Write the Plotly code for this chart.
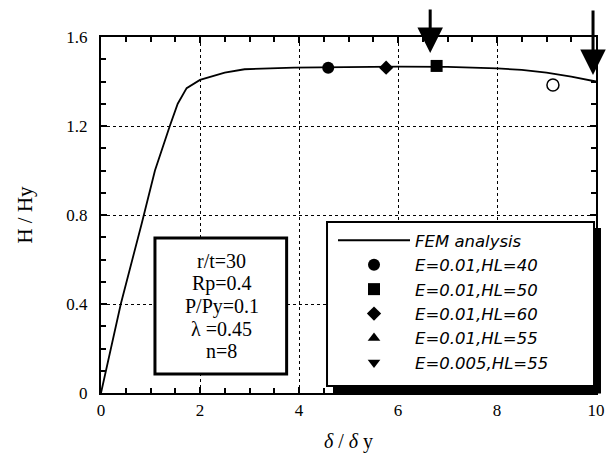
import plotly.graph_objects as go

# FEM analysis curve
x_fem = [0, 0.4, 0.82, 1.09, 1.39, 1.55, 1.73, 2.0, 2.5, 2.9, 3.9, 5.0, 6.0, 7.0, 8.0, 8.5, 9.0, 9.5, 10.0]
y_fem = [0, 0.40, 0.76, 1.0, 1.2, 1.30, 1.37, 1.407, 1.44, 1.455, 1.462, 1.466, 1.467, 1.466, 1.459, 1.452, 1.44, 1.422, 1.40]

# experimental points
x_hl40 = [4.59]; y_hl40 = [1.462]
x_hl50 = [6.78]; y_hl50 = [1.47]
x_hl60 = [5.76]; y_hl60 = [1.462]
x_hl55 = [None]; y_hl55 = [None]
x_e005 = [None]; y_e005 = [None]
x_open = [9.13]; y_open = [1.384]

# arrows (x, y of the tip)
arrow_x = [6.65, 9.94]
arrow_y = [1.528, 1.429]

params = ["r/t=30", "Rp=0.4", "P/Py=0.1", "λ =0.45", "n=8"]

serif = "Liberation Serif"
legfont = "DejaVu Sans"

fig = go.Figure()
fig.add_trace(go.Scatter(x=x_fem, y=y_fem, mode="lines", name="FEM analysis",
                         line=dict(color="black", width=1.8)))
fig.add_trace(go.Scatter(x=x_hl40, y=y_hl40, mode="markers", name="E=0.01,HL=40",
                         marker=dict(symbol="circle", color="black", size=12)))
fig.add_trace(go.Scatter(x=x_hl50, y=y_hl50, mode="markers", name="E=0.01,HL=50",
                         marker=dict(symbol="square", color="black", size=12)))
fig.add_trace(go.Scatter(x=x_hl60, y=y_hl60, mode="markers", name="E=0.01,HL=60",
                         marker=dict(symbol="diamond", color="black", size=11)))
fig.add_trace(go.Scatter(x=x_hl55, y=y_hl55, mode="markers", name="E=0.01,HL=55",
                         marker=dict(symbol="triangle-up", color="black", size=11)))
fig.add_trace(go.Scatter(x=x_e005, y=y_e005, mode="markers", name="E=0.005,HL=55",
                         marker=dict(symbol="triangle-down", color="black", size=11)))
fig.add_trace(go.Scatter(x=x_open, y=y_open, mode="markers", showlegend=False,
                         marker=dict(symbol="circle-open", color="black", size=12,
                                     line=dict(width=1.5))))

for ax_, ay_, off in zip(arrow_x, arrow_y, [-45, -66]):
    fig.add_annotation(x=ax_, y=ay_, ax=0, ay=off, showarrow=True, text="",
                       arrowhead=2, arrowsize=1.7, arrowwidth=3, arrowcolor="black")

# parameter box (frame) and its lines of text
fig.add_shape(type="rect", xref="x", yref="y", x0=1.09, x1=3.75, y0=0.085, y1=0.697,
              line=dict(color="black", width=3), fillcolor="white", layer="above")
for i, t in enumerate(params):
    fig.add_annotation(x=2.44, y=0.391, xref="x", yref="y", text=t, showarrow=False,
                       yshift=(2 - i) * 22.5,
                       font=dict(family=serif, size=20, color="black"))

# legend frame with shadow
fig.add_shape(type="rect", xref="paper", yref="paper", x0=0.4687, x1=1.0101, y0=-0.0014, y1=0.4635,
              line=dict(color="black", width=0), fillcolor="black", layer="above")
fig.add_shape(type="rect", xref="paper", yref="paper", x0=0.4566, x1=0.9960, y0=0.0197, y1=0.4803,
              line=dict(color="black", width=2), fillcolor="white", layer="above")

axis_common = dict(showline=True, linecolor="black", linewidth=2, mirror="ticks",
                   ticks="inside", ticklen=6, tickwidth=1.5, tickcolor="black",
                   showgrid=True, gridcolor="black", griddash="dot", gridwidth=1,
                   zeroline=False, automargin=False,
                   tickfont=dict(family=serif, size=17, color="black"))

fig.update_xaxes(range=[0, 10], dtick=2, tick0=0,
                 minor=dict(dtick=0.5, ticks="inside", ticklen=5, tickcolor="black", showgrid=False),
                 title=dict(text="<i>δ</i> / <i>δ</i> y", font=dict(family=serif, size=20, color="black"), standoff=16),
                 ticklabelstandoff=1, **axis_common)
fig.update_yaxes(range=[0, 1.6], dtick=0.4, tick0=0, tickformat="~g",
                 minor=dict(dtick=0.1, ticks="inside", ticklen=5, tickcolor="black", showgrid=False),
                 title=dict(text="H / Hy", font=dict(family=serif, size=21, color="black"), standoff=28),
                 ticklabelstandoff=8, **axis_common)

fig.update_layout(
    width=610, height=453,
    margin=dict(l=101, r=14, t=37, b=60),
    paper_bgcolor="white", plot_bgcolor="white",
    showlegend=True,
    legend=dict(x=0.4687, y=0.4775, xanchor="left", yanchor="top",
                bgcolor="rgba(0,0,0,0)", borderwidth=0,
                font=dict(family=legfont, size=16.5, color="black", style="italic"),
                itemwidth=72, tracegroupgap=0),
)

fig.write_html("out.html")
